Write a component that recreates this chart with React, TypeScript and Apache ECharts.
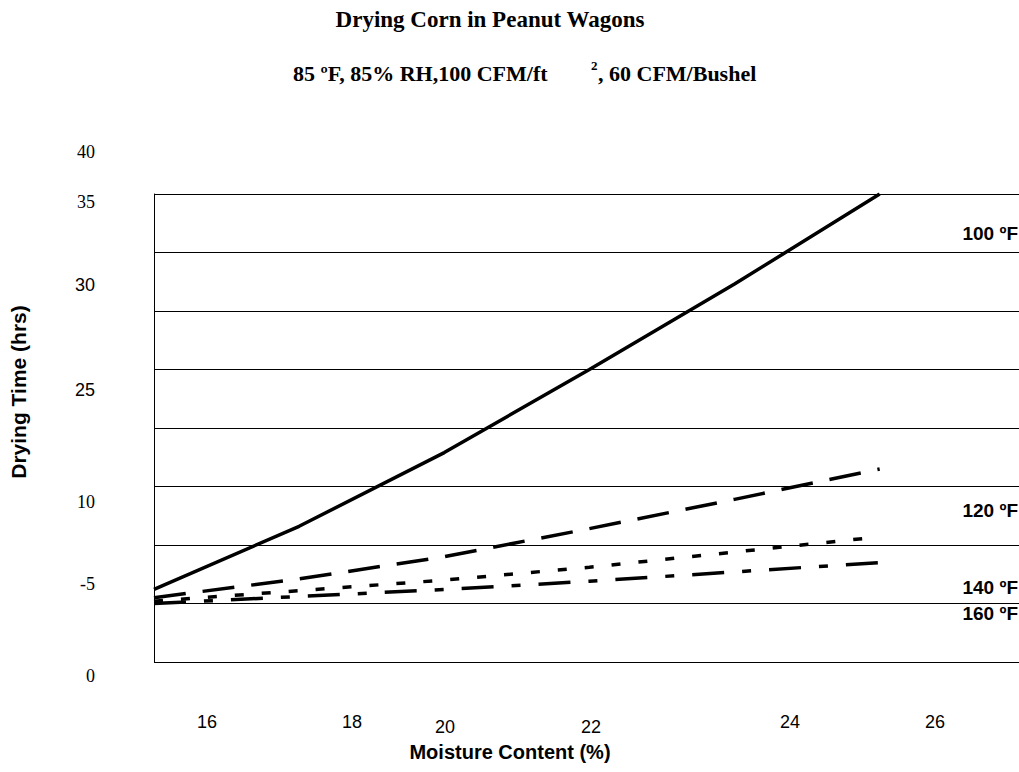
import React, { useEffect, useRef } from "react";
import * as echarts from "echarts";

// ---- data ----
const moisture = [15, 17, 19, 21, 23, 25];
const t100 = [6.2, 11.6, 17.9, 25.0, 32.3, 40.0];
const t120 = [5.5, 7.1, 9.0, 11.4, 13.9, 16.5];
const t140 = [5.2, 6.1, 7.0, 8.1, 9.4, 10.7];
const t160 = [5.0, 5.6, 6.2, 6.9, 7.7, 8.5];
const seriesNames = ["100 ºF", "120 ºF", "140 ºF", "160 ºF"];
const yTickLabels = ["40", "35", "30", "25", "10", "-5", "0"];
const xTickLabels = ["16", "18", "20", "22", "24", "26"];

// ---- layout ----
const yLabelY = [152, 202, 285, 390, 502, 584, 676];
const yLabelSerif = [true, true, false, false, true, true, true];
const xLabelX = [207, 352, 445, 591, 790, 935];
const xLabelY = [722, 722, 727, 727, 722, 722];
const seriesLabelY = [233, 510, 587, 613];
const dashes: (number[] | "solid")[] = ["solid", [32, 17], [9, 18], [32, 18, 9, 18]];

const SERIF = '"Liberation Serif", "Times New Roman", serif';
const SANS = '"Liberation Sans", Arial, sans-serif';

function txt(text: string, x: number, y: number, font: string, align = "center", extra: any = {}) {
  return {
    type: "text",
    x,
    y,
    ...extra,
    style: { text, font, fill: "#000", textAlign: align, textVerticalAlign: "middle" },
  };
}

export default function App() {
  const ref = useRef<HTMLDivElement>(null);
  useEffect(() => {
    if (!ref.current) return;
    const chart = echarts.init(ref.current, undefined, { renderer: "svg" });
    const all = [t100, t120, t140, t160];
    const graphic: any[] = [];
    graphic.push(txt("Drying Corn in Peanut Wagons", 490, 19, `bold 23px ${SERIF}`));
    graphic.push(txt("85 ºF, 85% RH,100 CFM/ft", 293, 73, `bold 22px ${SERIF}`, "left"));
    graphic.push(txt("2", 591, 65, `bold 13px ${SERIF}`, "left"));
    graphic.push(txt(", 60 CFM/Bushel", 598, 73, `bold 22px ${SERIF}`, "left"));
    yTickLabels.forEach((t, i) => {
      graphic.push(txt(t, 95, yLabelY[i], `18px ${yLabelSerif[i] ? SERIF : SANS}`, "right"));
    });
    xTickLabels.forEach((t, i) => {
      graphic.push(txt(t, xLabelX[i], xLabelY[i], `18px ${SANS}`));
    });
    seriesNames.forEach((t, i) => {
      graphic.push(txt(t, 1018, seriesLabelY[i], `bold 19px ${SANS}`, "right"));
    });
    graphic.push(txt("Moisture Content (%)", 510, 752, `bold 20px ${SANS}`));
    graphic.push(
      txt("Drying Time (hrs)", 18, 392, `bold 21px ${SANS}`, "center", { rotation: Math.PI / 2 })
    );

    chart.setOption({
      animation: false,
      backgroundColor: "#fff",
      grid: { left: 154, right: 0, top: 194, bottom: 110 },
      xAxis: {
        type: "value",
        min: 15,
        max: 26.92,
        axisLine: { show: false },
        axisTick: { show: false },
        axisLabel: { show: false },
        splitLine: { show: false },
      },
      yAxis: {
        type: "value",
        min: 0,
        max: 40,
        interval: 5,
        axisLine: { show: true, lineStyle: { color: "#000", width: 1 } },
        axisTick: { show: false },
        axisLabel: { show: false },
        splitLine: { show: true, lineStyle: { color: "#000", width: 1 } },
      },
      series: all.map((vals, i) => ({
        name: seriesNames[i],
        type: "line",
        symbol: "none",
        silent: true,
        data: moisture.map((m, j) => [m, vals[j]]),
        lineStyle: { color: "#000", width: 3.5, type: dashes[i], cap: "butt" },
      })),
      graphic,
    });
    return () => chart.dispose();
  }, []);
  return (
    <div
      ref={ref}
      style={{ position: "absolute", left: 0, top: 0, width: 1019, height: 772 }}
    />
  );
}
